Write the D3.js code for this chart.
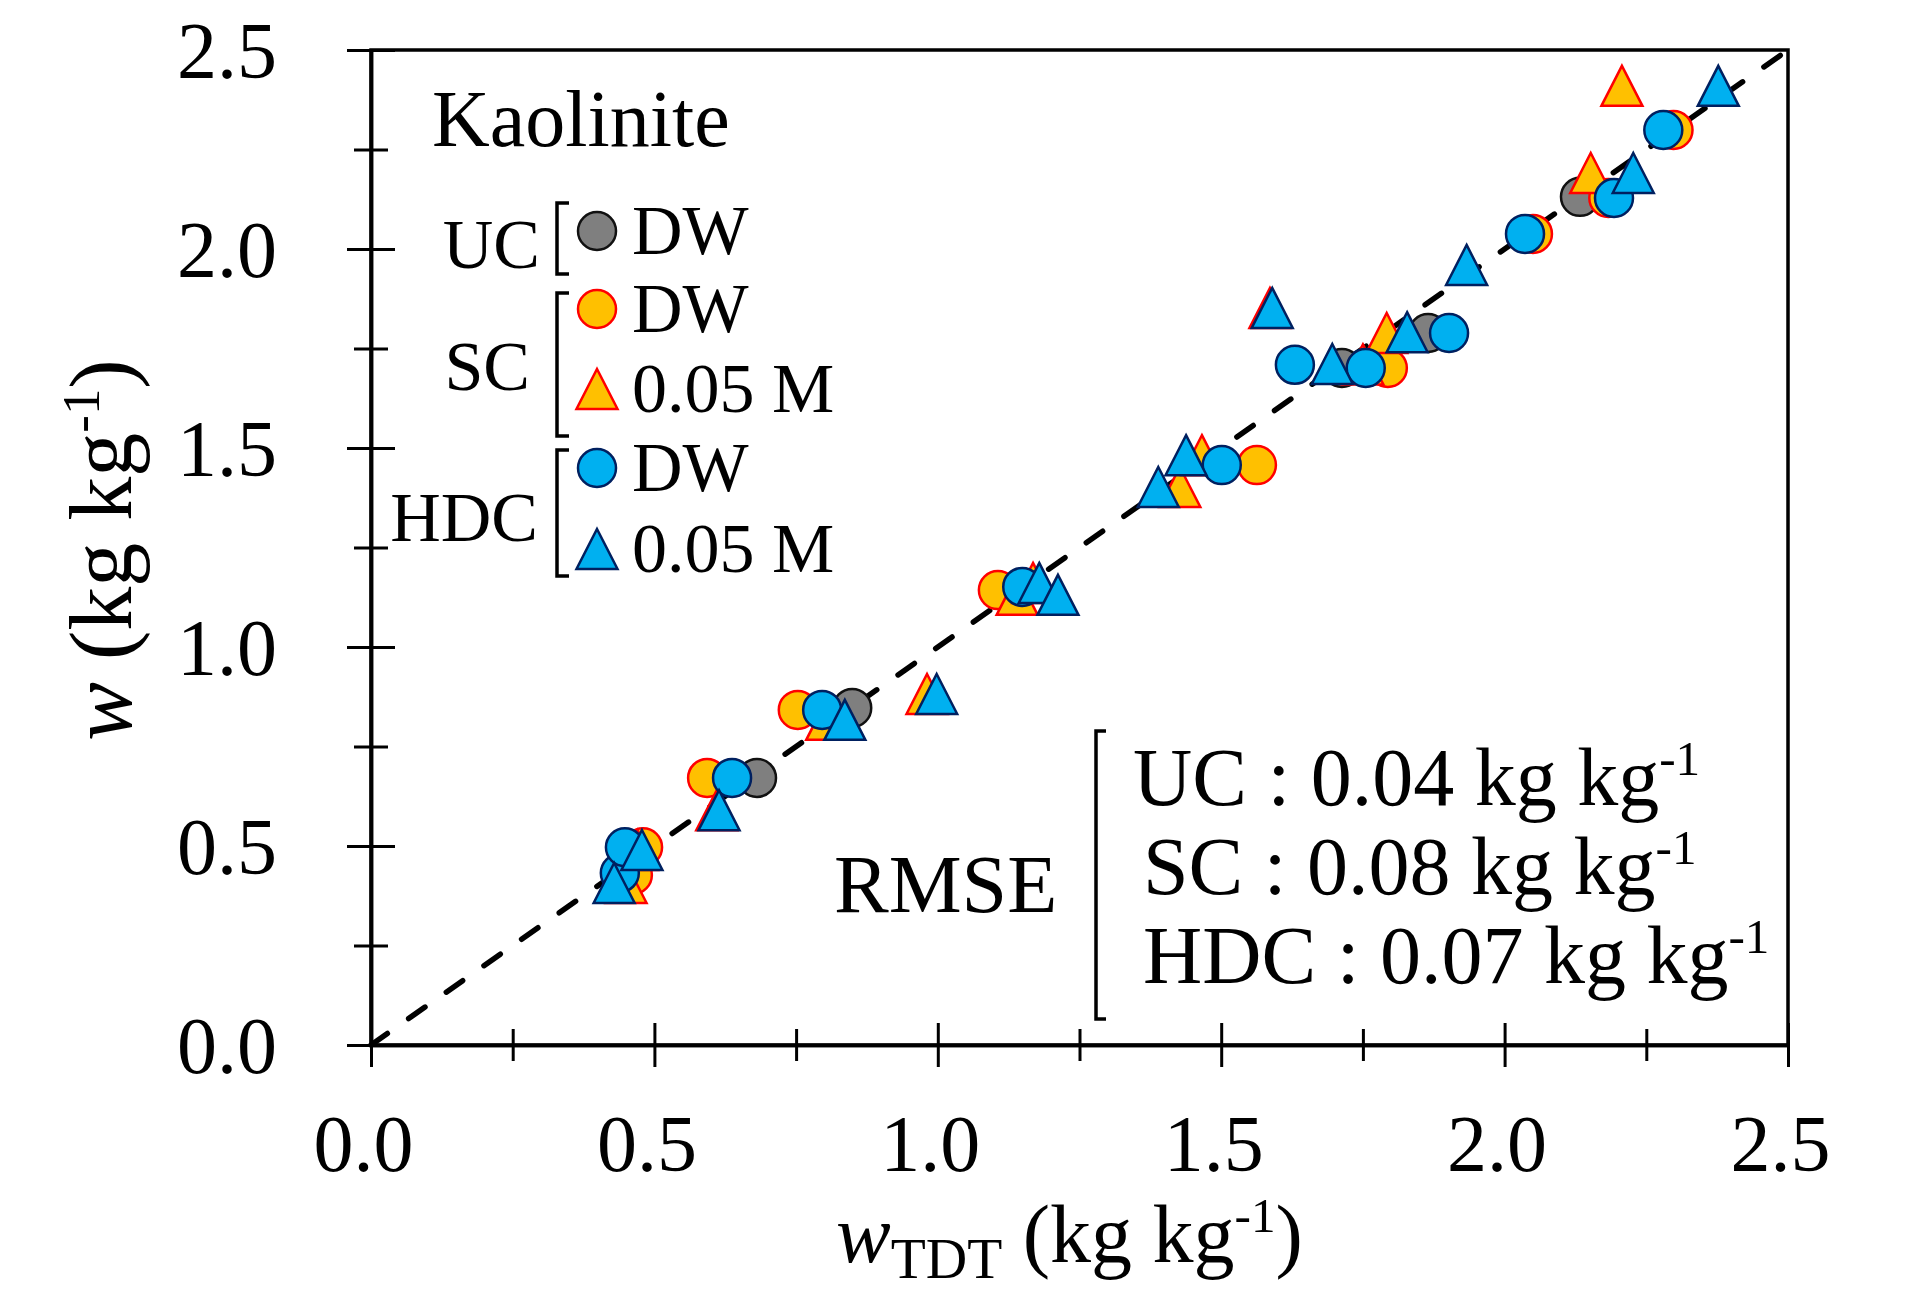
<!DOCTYPE html>
<html>
<head>
<meta charset="utf-8">
<script src="https://cdn.jsdelivr.net/npm/d3@7"></script>
<style>
  body { margin: 0; background: #fff; }
  svg { display: block; font-family: "Liberation Serif", "Times New Roman", serif; }
</style>
</head>
<body>
<div id="chart"></div>
<script>
// values: [w_TDT, w]
const ucDW = [[0.681,0.671],[0.849,0.847],[1.713,1.701],[1.865,1.789],[2.133,2.131]];
const scDW = [[0.462,0.427],[0.480,0.497],[0.593,0.671],[0.753,0.842],[1.106,1.143],
  [1.563,1.457],[1.794,1.701],[2.050,2.038],[2.183,2.128],[2.298,2.299]];
const sc005 = [[0.450,0.407],[0.470,0.490],[0.610,0.590],[0.804,0.817],[0.981,0.882],
  [1.140,1.131],[1.168,1.161],[1.427,1.402],[1.466,1.482],[1.586,1.852],[1.750,1.710],
  [1.792,1.789],[2.152,2.191],[2.207,2.410]];
const hdcDW = [[0.439,0.432],[0.448,0.497],[0.637,0.671],[0.796,0.842],[1.149,1.151],
  [1.501,1.457],[1.630,1.709],[1.755,1.701],[1.902,1.789],[2.036,2.038],[2.193,2.128],[2.280,2.299]];
const hdc005 = [[0.429,0.407],[0.478,0.490],[0.614,0.590],[0.836,0.817],[0.998,0.882],
  [1.179,1.161],[1.212,1.131],[1.389,1.402],[1.438,1.482],[1.590,1.852],[1.696,1.711],
  [1.828,1.791],[1.933,1.960],[2.227,2.191],[2.377,2.410]];
const oneToOne = [[0, 0], [2.5, 2.5]];
const majorTicks = [0, 0.5, 1.0, 1.5, 2.0, 2.5];
const minorTicks = [0.25, 0.75, 1.25, 1.75, 2.25];
const rmseLines = [["UC", "0.04"], ["SC", "0.08"], ["HDC", "0.07"]];

const W = 1907, H = 1294;
const x = d3.scaleLinear().domain([0, 2.5]).range([371, 1788]);
const y = d3.scaleLinear().domain([0, 2.5]).range([1045, 50]);

const svg = d3.select('#chart').append('svg').attr('width', W).attr('height', H);
svg.append('rect').attr('width', W).attr('height', H).attr('fill', '#fff');

const styles = {
  uc:  { fill: '#7f7f7f', stroke: '#111' },
  sc:  { fill: '#ffc000', stroke: '#ff0000' },
  hdc: { fill: '#00b0f0', stroke: '#002060' }
};
const R = 19;
const tri = 'M0,-20L20.5,20L-20.5,20Z';

// frame
svg.append('rect')
  .attr('x', x(0)).attr('y', y(2.5))
  .attr('width', x(2.5) - x(0)).attr('height', y(0) - y(2.5))
  .attr('fill', 'none').attr('stroke', '#000').attr('stroke-width', 3.5);

// axes, ticks cross the axis line
function crossX(len){ return g => g.selectAll('.tick line').attr('y1', -len).attr('y2', len); }
function crossY(len){ return g => g.selectAll('.tick line').attr('x1', -len).attr('x2', len); }

const gx = svg.append('g').attr('transform', 'translate(0,' + y(0) + ')');
gx.append('g').call(d3.axisBottom(x).tickValues(minorTicks).tickFormat('').tickSize(0))
  .call(crossX(16));
gx.append('g').call(d3.axisBottom(x).tickValues(majorTicks).tickFormat(d3.format('.1f')).tickSize(0))
  .call(crossX(22));
gx.selectAll('.domain').attr('stroke-width', 3.5);
gx.selectAll('.tick line').attr('stroke-width', 3);
gx.selectAll('.tick text')
  .attr('y', 126).attr('dy', 0).attr('dx', -8)
  .attr('font-size', 80).attr('font-family', '"Liberation Serif", serif').attr('fill', '#000');

const gy = svg.append('g').attr('transform', 'translate(' + x(0) + ',0)');
gy.append('g').call(d3.axisLeft(y).tickValues(minorTicks).tickFormat('').tickSize(0))
  .call(crossY(17));
gy.append('g').call(d3.axisLeft(y).tickValues(majorTicks).tickFormat(d3.format('.1f')).tickSize(0))
  .call(crossY(24));
gy.selectAll('.domain').attr('stroke-width', 3.5);
gy.selectAll('.tick line').attr('stroke-width', 3);
gy.selectAll('.tick text')
  .attr('x', -94).attr('dy', '0.34em')
  .attr('font-size', 80).attr('font-family', '"Liberation Serif", serif').attr('fill', '#000');

// 1:1 line
svg.append('path')
  .attr('d', d3.line().x(d => x(d[0])).y(d => y(d[1]))(oneToOne))
  .attr('fill', 'none').attr('stroke', '#000').attr('stroke-width', 5.5)
  .attr('stroke-dasharray', '20,26').attr('stroke-linecap', 'round');

// data series, drawn in Excel order
function circles(data, st){
  svg.append('g').selectAll('circle').data(data).join('circle')
    .attr('cx', d => x(d[0])).attr('cy', d => y(d[1])).attr('r', R)
    .attr('fill', st.fill).attr('stroke', st.stroke).attr('stroke-width', 2.5);
}
function triangles(data, st){
  svg.append('g').selectAll('path').data(data).join('path')
    .attr('d', tri)
    .attr('transform', d => 'translate(' + x(d[0]) + ',' + y(d[1]) + ')')
    .attr('fill', st.fill).attr('stroke', st.stroke).attr('stroke-width', 2.5)
    .attr('stroke-linejoin', 'miter');
}
circles(ucDW, styles.uc);
circles(scDW, styles.sc);
triangles(sc005, styles.sc);
circles(hdcDW, styles.hdc);
triangles(hdc005, styles.hdc);

// text helpers
function supText(t, parts, size){
  parts.forEach(p => {
    const s = t.append('tspan').text(p.t);
    if (p.italic) s.attr('font-style', 'italic');
    if (p.sup) s.attr('font-size', size * 0.6).attr('dy', -size * 0.36);
    if (p.sub) s.attr('font-size', size * 0.7).attr('dy', size * 0.2);
    if (p.back) s.attr('dy', p.back);
  });
}

// axis titles
const xt = svg.append('text').attr('x', 836).attr('y', 1262).attr('font-size', 82);
supText(xt, [
  { t: 'w', italic: true },
  { t: 'TDT', sub: true },
  { t: ' (kg kg', back: -82 * 0.2 },
  { t: '-1', sup: true },
  { t: ')', back: 82 * 0.36 }
], 82);

const yt = svg.append('text').attr('transform', 'translate(131,550) rotate(-90)')
  .attr('text-anchor', 'middle').attr('font-size', 88);
supText(yt, [
  { t: 'w', italic: true },
  { t: ' (kg kg' },
  { t: '-1', sup: true },
  { t: ')', back: 88 * 0.36 }
], 88);

svg.append('text').attr('x', 432).attr('y', 146).attr('font-size', 80).text('Kaolinite');

// legend
const legFont = 70;
function bracket(xp, y1, y2, w){
  svg.append('path')
    .attr('d', 'M' + (xp + w) + ',' + y1 + 'H' + xp + 'V' + y2 + 'H' + (xp + w))
    .attr('fill', 'none').attr('stroke', '#000').attr('stroke-width', 3.5);
}
const legendRows = [
  { shape: 'c', st: styles.uc,  label: 'DW',     cy: 231 },
  { shape: 'c', st: styles.sc,  label: 'DW',     cy: 309 },
  { shape: 't', st: styles.sc,  label: '0.05 M', cy: 389 },
  { shape: 'c', st: styles.hdc, label: 'DW',     cy: 468 },
  { shape: 't', st: styles.hdc, label: '0.05 M', cy: 549 }
];
legendRows.forEach(r => {
  if (r.shape === 'c') {
    svg.append('circle').attr('cx', 597).attr('cy', r.cy).attr('r', R)
      .attr('fill', r.st.fill).attr('stroke', r.st.stroke).attr('stroke-width', 2.5);
  } else {
    svg.append('path').attr('d', tri).attr('transform', 'translate(597,' + r.cy + ')')
      .attr('fill', r.st.fill).attr('stroke', r.st.stroke).attr('stroke-width', 2.5);
  }
  svg.append('text').attr('x', 632).attr('y', r.cy + 23).attr('font-size', legFont).text(r.label);
});
const groups = [
  { name: 'UC',  x: 540, y: 268, b: [203, 274] },
  { name: 'SC',  x: 530, y: 390, b: [293, 436] },
  { name: 'HDC', x: 538, y: 541, b: [450, 576] }
];
groups.forEach(g => {
  svg.append('text').attr('x', g.x).attr('y', g.y).attr('text-anchor', 'end')
    .attr('font-size', legFont).text(g.name);
  bracket(557, g.b[0], g.b[1], 12);
});

// RMSE block
svg.append('text').attr('x', 834).attr('y', 912).attr('font-size', 82).text('RMSE');
bracket(1096, 731, 1019, 10);
const rmseX = [1133, 1143, 1143];
rmseLines.forEach((r, i) => {
  const t = svg.append('text').attr('x', rmseX[i]).attr('y', 805 + i * 89).attr('font-size', 82);
  supText(t, [
    { t: r[0] + ' : ' + r[1] + ' kg kg' },
    { t: '-1', sup: true }
  ], 82);
});
</script>
</body>
</html>
